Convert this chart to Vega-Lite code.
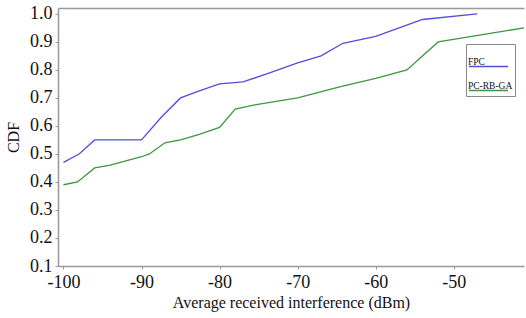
{
  "$schema": "https://vega.github.io/schema/vega-lite/v6.json",
  "width": 466,
  "height": 258,
  "autosize": "none",
  "padding": {"left": 58, "top": 8, "right": 2, "bottom": 52},
  "background": "white",
  "config": {
    "view": {"stroke": null},
    "font": "Liberation Serif",
    "axis": {
      "labelFont": "Liberation Serif",
      "titleFont": "Liberation Serif",
      "labelColor": "#111",
      "titleColor": "#111",
      "titleFontWeight": "normal",
      "domainColor": "#999",
      "domainWidth": 1.5,
      "tickColor": "#999",
      "tickSize": 3,
      "grid": false
    }
  },
  "datasets": {
    "fpc": [
      {"x": -100, "cdf": 0.47, "series": "FPC"},
      {"x": -98, "cdf": 0.5, "series": "FPC"},
      {"x": -96, "cdf": 0.55, "series": "FPC"},
      {"x": -90, "cdf": 0.55, "series": "FPC"},
      {"x": -87.5, "cdf": 0.63, "series": "FPC"},
      {"x": -85, "cdf": 0.7, "series": "FPC"},
      {"x": -82.6, "cdf": 0.725, "series": "FPC"},
      {"x": -80, "cdf": 0.75, "series": "FPC"},
      {"x": -77, "cdf": 0.757, "series": "FPC"},
      {"x": -73.5, "cdf": 0.79, "series": "FPC"},
      {"x": -70, "cdf": 0.825, "series": "FPC"},
      {"x": -67, "cdf": 0.85, "series": "FPC"},
      {"x": -64.2, "cdf": 0.895, "series": "FPC"},
      {"x": -60, "cdf": 0.92, "series": "FPC"},
      {"x": -57, "cdf": 0.95, "series": "FPC"},
      {"x": -54, "cdf": 0.98, "series": "FPC"},
      {"x": -47, "cdf": 1.0, "series": "FPC"}
    ],
    "ga": [
      {"x": -100, "cdf": 0.39, "series": "PC-RB-GA"},
      {"x": -98.2, "cdf": 0.4, "series": "PC-RB-GA"},
      {"x": -96, "cdf": 0.45, "series": "PC-RB-GA"},
      {"x": -94, "cdf": 0.46, "series": "PC-RB-GA"},
      {"x": -90, "cdf": 0.49, "series": "PC-RB-GA"},
      {"x": -89, "cdf": 0.5, "series": "PC-RB-GA"},
      {"x": -87, "cdf": 0.54, "series": "PC-RB-GA"},
      {"x": -85, "cdf": 0.55, "series": "PC-RB-GA"},
      {"x": -82.6, "cdf": 0.57, "series": "PC-RB-GA"},
      {"x": -80, "cdf": 0.595, "series": "PC-RB-GA"},
      {"x": -78, "cdf": 0.66, "series": "PC-RB-GA"},
      {"x": -75.5, "cdf": 0.675, "series": "PC-RB-GA"},
      {"x": -70, "cdf": 0.7, "series": "PC-RB-GA"},
      {"x": -64.5, "cdf": 0.74, "series": "PC-RB-GA"},
      {"x": -60, "cdf": 0.77, "series": "PC-RB-GA"},
      {"x": -56, "cdf": 0.8, "series": "PC-RB-GA"},
      {"x": -52, "cdf": 0.9, "series": "PC-RB-GA"},
      {"x": -41, "cdf": 0.95, "series": "PC-RB-GA"}
    ]
  },
  "encoding": {
    "y": {
      "field": "cdf",
      "type": "quantitative",
      "scale": {"domain": [0.1, 1.021], "nice": false, "zero": false},
      "axis": {
        "values": [0.1, 0.2, 0.3, 0.4, 0.5, 0.6, 0.7, 0.8, 0.9, 1.0],
        "format": ".1f",
        "title": "CDF",
        "labelFontSize": 18,
        "titleFontSize": 16,
        "labelPadding": 3,
        "titlePadding": 8
      }
    },
    "color": {
      "field": "series",
      "type": "nominal",
      "scale": {"domain": ["FPC", "PC-RB-GA"], "range": ["#4f4fdc", "#3f963f"]},
      "legend": {
        "title": null,
        "orient": "none",
        "legendX": 408,
        "legendY": 36,
        "symbolType": "stroke",
        "symbolSize": 1521,
        "symbolStrokeWidth": 1.5,
        "labelOffset": -41,
        "labelBaseline": "bottom",
        "labelFont": "Liberation Serif",
        "labelFontSize": 9.5,
        "labelColor": "#111",
        "strokeColor": "#888",
        "fillColor": "white",
        "padding": 2,
        "rowPadding": 0
      }
    }
  },
  "layer": [
    {
      "data": {"name": "fpc"},
      "mark": {"type": "line", "strokeWidth": 1.3},
      "encoding": {
        "x": {
          "field": "x",
          "type": "quantitative",
          "scale": {"domain": [-100.7, -41], "nice": false, "zero": false},
          "axis": {
            "orient": "bottom",
            "values": [-100, -90, -80, -70, -60, -50],
            "labelExpr": "replace(datum.label, '−', '-')",
            "title": "Average received interference (dBm)",
            "labelFontSize": 18,
            "titleFontSize": 16,
            "labelPadding": 4,
            "titlePadding": 3
          }
        }
      }
    },
    {
      "data": {"name": "ga"},
      "mark": {"type": "line", "strokeWidth": 1.3},
      "encoding": {
        "x": {
          "field": "x",
          "type": "quantitative",
          "axis": {
            "orient": "top",
            "labels": false,
            "ticks": false,
            "title": null
          }
        }
      }
    }
  ],
  "resolve": {"axis": {"x": "independent"}}
}
